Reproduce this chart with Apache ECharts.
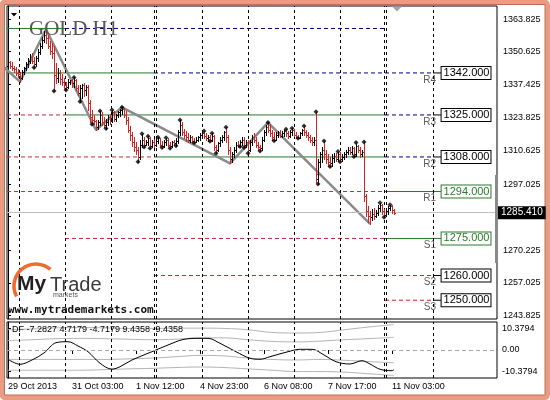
<!DOCTYPE html>
<html>
<head>
<meta charset="utf-8">
<script src="https://cdn.jsdelivr.net/npm/echarts@6/dist/echarts.min.js"></script>
<style>
  html, body { margin: 0; padding: 0; background: #fff; }
  #main { width: 550px; height: 400px; }
</style>
</head>
<body>
<div id="main"></div>
<script>
// GOLD H1 bars, oldest first: [open, close, low, high]
const bars = [
  [1345, 1346.5, 1344, 1347.5], [1346.5, 1345, 1344, 1347], [1345, 1344, 1343, 1346.5], [1344, 1343.5, 1342.5, 1345],
  [1343.5, 1342, 1341, 1344.5], [1342, 1341.5, 1340.5, 1343.5], [1341.5, 1340, 1338.5, 1342.5], [1340, 1342.5, 1339.5, 1343],
  [1342.5, 1344, 1341.5, 1344.5], [1344, 1345.5, 1343, 1346.5], [1345.5, 1347, 1344.5, 1348], [1347, 1348.5, 1346, 1349.5],
  [1348.5, 1347, 1346, 1350], [1347, 1345.5, 1344.2, 1348.5], [1345.5, 1348, 1345, 1349], [1348, 1350.5, 1347, 1351.5],
  [1350.5, 1353, 1349.5, 1354], [1353, 1355.5, 1352, 1356.5], [1355.5, 1357.5, 1354.5, 1359], [1357.5, 1356, 1354, 1359.7],
  [1356, 1353, 1352, 1357.5], [1353, 1351, 1349.5, 1355], [1351, 1350, 1348, 1354], [1350, 1341, 1334.7, 1353],
  [1341, 1340, 1338, 1346], [1340, 1342, 1338.5, 1344], [1342, 1339.5, 1337.5, 1343], [1339.5, 1338.5, 1337, 1341.5],
  [1338.5, 1337, 1336, 1340], [1337, 1336.5, 1335.1, 1338.5], [1336.5, 1338.5, 1336, 1339.5], [1338.5, 1339, 1337.5, 1339.3],
  [1339, 1338, 1336.5, 1339.5], [1338, 1339, 1336.5, 1340.2], [1339, 1336, 1335, 1339.5], [1336, 1334, 1333, 1337],
  [1334, 1336, 1330.4, 1337], [1336, 1337, 1332, 1337.5], [1337, 1335, 1332.5, 1338], [1335, 1336.5, 1333, 1337],
  [1336.5, 1330, 1327, 1337], [1330, 1324, 1322, 1331], [1324, 1323, 1321.2, 1327], [1323, 1322.5, 1321.5, 1325],
  [1322.5, 1320, 1318.9, 1323], [1320, 1322, 1319.5, 1323], [1322, 1325, 1321, 1326.6], [1325, 1322, 1321, 1326],
  [1322, 1321, 1320, 1324], [1321, 1322, 1319.5, 1323.5], [1322, 1324, 1321, 1325], [1324, 1322.5, 1321.5, 1325.5],
  [1322.5, 1326, 1322, 1327], [1326, 1323.5, 1322.5, 1326.5], [1323.5, 1325, 1322.5, 1325.5], [1325, 1326, 1324, 1326.5],
  [1326, 1327, 1324.5, 1327.5], [1327, 1327.5, 1325.5, 1328.1], [1327.5, 1325, 1324, 1328], [1325, 1323, 1321.5, 1326.5],
  [1323, 1319, 1318, 1324], [1319, 1317, 1315, 1320.5], [1317, 1314, 1312.5, 1318], [1314, 1312, 1310.5, 1316],
  [1312, 1311, 1309, 1314], [1311, 1308, 1306.1, 1312], [1308, 1313, 1307, 1315], [1313, 1315, 1312, 1317.4],
  [1315, 1313, 1312, 1316], [1313, 1314, 1312.8, 1315], [1314, 1315.5, 1313, 1316.4], [1315.5, 1312.5, 1311.5, 1316],
  [1312.5, 1314, 1312, 1315], [1314, 1313, 1312.2, 1315.2], [1313, 1314.5, 1312.5, 1315.5], [1314.5, 1315.5, 1313.5, 1316],
  [1315.5, 1313, 1312.5, 1315.8], [1313, 1312.5, 1311.8, 1314.5], [1312.5, 1314, 1312.2, 1314.8], [1314, 1315, 1313, 1315.8],
  [1315, 1313, 1312.5, 1315.5], [1313, 1312.5, 1311.5, 1314], [1312.5, 1314, 1312, 1314.5], [1314, 1313.5, 1312.8, 1315],
  [1313.5, 1314.5, 1312.5, 1315.5], [1314.5, 1318, 1313.5, 1319], [1318, 1321, 1317, 1323], [1321, 1318, 1317, 1322],
  [1318, 1317, 1315.5, 1319.5], [1317, 1316, 1314.5, 1318.5], [1316, 1315, 1314, 1317.5], [1315, 1316, 1314, 1317],
  [1316, 1314.5, 1314, 1316.5], [1314.5, 1314, 1313.7, 1315.5], [1314, 1315, 1314, 1316], [1315, 1316, 1314.5, 1316.5],
  [1316, 1317, 1315, 1317.5], [1317, 1317.5, 1315.5, 1318], [1317.5, 1316.5, 1315.5, 1318.5], [1316.5, 1315.5, 1314.8, 1317.5],
  [1315.5, 1316, 1314.6, 1317], [1316, 1315, 1314.4, 1316.8], [1315, 1316.5, 1314.5, 1317.6], [1316.5, 1312, 1311, 1317],
  [1312, 1311, 1309.5, 1313], [1311, 1313.5, 1310.5, 1314], [1313.5, 1315, 1312.5, 1316], [1315, 1316, 1314, 1317],
  [1316, 1318, 1315, 1318.5], [1318, 1316, 1314, 1320], [1316, 1311, 1309, 1317], [1311, 1307, 1305.4, 1312],
  [1307, 1309, 1306, 1310], [1309, 1311, 1308, 1312], [1311, 1313, 1310, 1314], [1313, 1312.5, 1312.2, 1314.5],
  [1312.5, 1314, 1312.2, 1315], [1314, 1315, 1313, 1316], [1315, 1313, 1311.8, 1316], [1313, 1314, 1312, 1315],
  [1314, 1311, 1309.5, 1315], [1311, 1314, 1310.5, 1315], [1314, 1316, 1313, 1317], [1316, 1315, 1314, 1317.5],
  [1315, 1313, 1312, 1316], [1313, 1312, 1310.8, 1314], [1312, 1311.5, 1310.4, 1313], [1311.5, 1315, 1311, 1316],
  [1315, 1318, 1314.5, 1319], [1318, 1320, 1317, 1321], [1320, 1319, 1318, 1321.9], [1319, 1317.5, 1316.5, 1321.5],
  [1317.5, 1316, 1315, 1319], [1316, 1315, 1314.6, 1318], [1315, 1317, 1315, 1318], [1317, 1318, 1316, 1318.5],
  [1318, 1316.5, 1316, 1318.8], [1316.5, 1317.5, 1316, 1318.5], [1317.5, 1318.5, 1316.5, 1319], [1318.5, 1317.5, 1316.5, 1319.2],
  [1317.5, 1316.5, 1315.8, 1318.5], [1316.5, 1318, 1316, 1318.8], [1318, 1319, 1317, 1319.6], [1319, 1317, 1316.5, 1319.3],
  [1317, 1316, 1315.8, 1318], [1316, 1315.8, 1315.6, 1317], [1315.8, 1317.5, 1315.6, 1318], [1317.5, 1319, 1317, 1319.5],
  [1319, 1318, 1317, 1320.5], [1318, 1317, 1316, 1319], [1317, 1316, 1315, 1318], [1316, 1315, 1314, 1317],
  [1315, 1314, 1313, 1316], [1314, 1315, 1313, 1316], [1315, 1301, 1298, 1326.3], [1299, 1306, 1297, 1307],
  [1306, 1309, 1304, 1310], [1309, 1311, 1306, 1312], [1311, 1309, 1307, 1314.5], [1309, 1307, 1305.5, 1311],
  [1307, 1306, 1304.5, 1309], [1306, 1305.5, 1304.1, 1308], [1305.5, 1307.5, 1304.5, 1309], [1307.5, 1308.5, 1306, 1309.5],
  [1308.5, 1307, 1306.5, 1309.5], [1307, 1309, 1306.5, 1310.2], [1309, 1307, 1306.1, 1310], [1307, 1308, 1306.5, 1309],
  [1308, 1309, 1307, 1310], [1309, 1310, 1308, 1311], [1310, 1311, 1309, 1312], [1311, 1310, 1309, 1312],
  [1310, 1311.5, 1309, 1312.5], [1311.5, 1309, 1308.2, 1312], [1309, 1312.5, 1308.5, 1313.8], [1312.5, 1311, 1310, 1313],
  [1311, 1309, 1308, 1312], [1309, 1310, 1308.5, 1311], [1310, 1292, 1290, 1314], [1292, 1286, 1284, 1293],
  [1286, 1284, 1281.5, 1288], [1284, 1283.5, 1280.9, 1286], [1283.5, 1285, 1282.5, 1287], [1285, 1284, 1283, 1287.5],
  [1284, 1285.5, 1283.5, 1286.5], [1285.5, 1287.5, 1284.5, 1288.5], [1287.5, 1288.5, 1286, 1289.5], [1288.5, 1286, 1285, 1289],
  [1286, 1284.5, 1283.6, 1287], [1284.5, 1286, 1284, 1287], [1286, 1287.5, 1285, 1288], [1287.5, 1288, 1286.5, 1288.6],
  [1288, 1286.5, 1285.5, 1288.4], [1286.5, 1285.41, 1284.9, 1287]
];
const barSlots = 245; // bar slots across the chart, incl. the shifted empty area

// fractals [bar, price]
const fractalsUp = [[33, 1340.2], [46, 1326.6], [52, 1327], [57, 1328.1], [67, 1317.4], [70, 1316.4], [75, 1316],
  [79, 1315.8], [86, 1323], [98, 1318.5], [102, 1317.6], [109, 1320], [130, 1321.9], [139, 1319.2], [142, 1319.6],
  [148, 1320.5], [154, 1326.3], [158, 1314.5], [165, 1310.2], [174, 1313.8], [178, 1314], [186, 1289.5], [191, 1288.6]];
const fractalsDown = [[13, 1344.2], [23, 1334.7], [29, 1335.1], [36, 1330.4], [42, 1321.2], [49, 1319.5], [65, 1306.1],
  [68, 1312], [71, 1311.5], [77, 1311.8], [81, 1311.5], [84, 1312.5], [93, 1313.7], [101, 1314.4], [104, 1309.5],
  [116, 1312.2], [118, 1311.8], [120, 1309.5], [126, 1310.4], [133, 1314.6], [145, 1315.6], [155, 1297], [161, 1304.1],
  [166, 1306.1], [173, 1308.2], [188, 1283.6]];

// zigzag vertices [bar, price]
const zigzag = [[-3, 1345], [6, 1338.5], [19, 1359.7], [44, 1318.9], [57, 1328.1], [111, 1305.4], [130, 1321.9], [181, 1280.9]];

const lastPrice = 1285.41;
const pivots = [['R4', 1342], ['R3', 1325], ['R2', 1308], ['R1', 1294], ['S1', 1275], ['S2', 1260], ['S3', 1250]];
// level segments [price, fromBar, toBar, kind]
const levelSegments = [
  [1360, -0.5, 28.5, 'mid'], [1360, 28.5, 188.5, 'res'],
  [1342, -0.5, 73, 'mid'], [1342, 73, 212.5, 'res'],
  [1325, -0.5, 28.5, 'sup'], [1325, 28.5, 188.5, 'mid'], [1325, 188.5, 212.5, 'res'],
  [1308, -0.5, 73, 'sup'], [1308, 73, 188.5, 'mid'], [1308, 188.5, 212.5, 'res'],
  [1294, -0.5, 188.5, 'sup'], [1294, 188.5, 212.5, 'mid'],
  [1275, 28.5, 188.5, 'sup'], [1275, 188.5, 212.5, 'mid'],
  [1260, 73, 212.5, 'sup'],
  [1250, 188.5, 212.5, 'sup']
];
const pivotEnd = 212.5;
const pivotBoxAt = 216.8;

const daySeparators = [5.5, 28.5, 51.5, 73, 74, 97, 120, 143, 166, 188, 189, 212.5];
const timeLabelBars = [0, 32, 64, 96, 128, 160, 192];
const timeLabels = ['29 Oct 2013', '31 Oct 03:00', '1 Nov 12:00', '4 Nov 23:00', '6 Nov 08:00', '7 Nov 17:00', '11 Nov 03:00'];
const priceTicks = [1363.825, 1350.625, 1337.425, 1323.825, 1310.625, 1297.025, 1283.825, 1270.225, 1257.025, 1243.825];
const priceMin = 1242.4, priceMax = 1369.1;

// DF indicator
const dfMax = 10.3794;
const dfBars = [0, 6, 12, 18, 24, 30, 35, 40, 46, 52, 56, 62, 72, 80, 88, 96, 100, 106, 114, 121, 126, 131, 140, 146, 152, 158, 164, 171, 177, 181, 186, 192, 193];
const dfValues = [-3.44, -5.3, -3.7, -1.1, 2.7, 3.07, 1.48, -0.63, -4.9, -7.1, -6.2, -3.7, -0.63, 1.85, 3.96, 4.33, 4.33, 2.48, -0.63, -3.07, -3.44, -2.48, -0.63, 0.26, 0.26, -1.85, -4.33, -5.19, -3.96, -5.2, -7.15, -7.67, -7.2827];
const bandBars = [0, 12, 24, 36, 48, 60, 72, 84, 96, 108, 120, 132, 144, 156, 168, 180, 193];
const bandUpper2 = [7.5, 7.8, 8.2, 8.3, 8.2, 8.0, 8.0, 8.1, 8.1, 8.0, 7.5, 6.5, 6.3, 6.5, 7.5, 8.5, 9.4358];
const bandUpper1 = [3.5, 3.8, 4.2, 4.3, 4.2, 4.0, 3.8, 4.0, 4.5, 4.5, 3.8, 3.2, 3.0, 3.3, 3.8, 4.2, 4.7179];
const bandLower1 = [-3.5, -3.5, -3.5, -3.5, -3.5, -3.3, -3.0, -2.5, -2.0, -2.2, -3.0, -3.5, -3.7, -3.5, -3.8, -4.3, -4.7179];
const bandLower2 = [-7.5, -7.5, -7.5, -7.5, -7.3, -7.0, -6.8, -6.5, -6.3, -6.5, -7.0, -7.5, -8.0, -8.0, -8.2, -8.8, -9.4358];

const FONT = 'Liberation Sans';
const UP = '#000', DOWN = '#d22626';
const kindStyle = {
  res: { color: '#000080', type: [4, 3] },
  mid: { color: '#2a7a2a', type: 'solid' },
  sup: { color: '#c42b2b', type: [4, 3] }
};

const chart = echarts.init(document.getElementById('main'));

const sepData = daySeparators.map(v => ({ xAxis: v }));

const series = [];
// OHLC bars: high-low stem, open tick left, close tick right
series.push({
  type: 'custom', xAxisIndex: 0, yAxisIndex: 0, z: 5, clip: true, silent: true,
  data: bars.map((b, i) => [i, b[0], b[1], b[2], b[3]]),
  encode: { x: 0, y: [1, 2, 3, 4] },
  renderItem: (params, api) => {
    const i = api.value(0);
    const hi = api.coord([i, api.value(4)]);
    const lo = api.coord([i, api.value(3)]);
    const op = api.coord([i, api.value(1)]);
    const cl = api.coord([i, api.value(2)]);
    const c = Math.round(hi[0]);
    const col = api.value(2) >= api.value(1) ? UP : DOWN;
    const st = { stroke: col, lineWidth: 1 };
    return {
      type: 'group',
      children: [
        { type: 'line', shape: { x1: c + 0.5, y1: Math.round(hi[1]), x2: c + 0.5, y2: Math.round(lo[1]) + 1 }, style: st },
        { type: 'line', shape: { x1: c - 1, y1: Math.round(op[1]) + 0.5, x2: c, y2: Math.round(op[1]) + 0.5 }, style: st },
        { type: 'line', shape: { x1: c + 1, y1: Math.round(cl[1]) + 0.5, x2: c + 2, y2: Math.round(cl[1]) + 0.5 }, style: st }
      ]
    };
  },
  markLine: {
    silent: true, symbol: ['none', 'none'], label: { show: false },
    lineStyle: { color: '#000', type: [3, 3], width: 1 },
    data: [{
      yAxis: lastPrice,
      lineStyle: { color: '#c0c0c0', type: 'solid', width: 1 },
      label: {
        show: true, position: 'end', distance: 1, formatter: lastPrice.toFixed(3),
        backgroundColor: '#000', color: '#fff', padding: [2, 3, 1, 3], fontSize: 10, fontFamily: FONT
      }
    }].concat(sepData)
  }
});

levelSegments.forEach(s => {
  const st = kindStyle[s[3]];
  series.push({
    type: 'line', xAxisIndex: 0, yAxisIndex: 0, z: 2, silent: true, symbol: 'none',
    data: [[s[1], s[0]], [s[2], s[0]]],
    lineStyle: { color: st.color, type: st.type, width: 1 }
  });
});

pivots.forEach(p => {
  const last = levelSegments.find(s => s[0] === p[1] && s[2] === pivotEnd);
  const col = last && last[3] === 'mid' ? '#2a7a2a' : '#000';
  series.push({
    type: 'line', xAxisIndex: 0, yAxisIndex: 0, z: 3, silent: true, symbol: 'none',
    data: [[pivotEnd, p[1]], [pivotBoxAt, p[1]]],
    lineStyle: { color: col, width: 1 },
    endLabel: {
      show: true, distance: 0, formatter: p[1].toFixed(3),
      color: col, borderColor: col, borderWidth: 1, backgroundColor: '#fff',
      padding: [1, 1, 0, 2], fontSize: 11, fontFamily: FONT, lineHeight: 11
    }
  });
});

series.push({
  type: 'scatter', xAxisIndex: 0, yAxisIndex: 0, symbolSize: 0, silent: true, z: 3,
  data: pivots.map(p => [pivotEnd, p[1], p[0]]),
  label: {
    show: true, position: 'bottom', distance: 2, align: 'right', offset: [3, 0],
    formatter: q => q.data[2], color: '#333', fontSize: 10, fontFamily: FONT
  }
});

series.push({
  type: 'line', xAxisIndex: 0, yAxisIndex: 0, z: 4, silent: true, symbol: 'none',
  data: zigzag, lineStyle: { color: '#8a8a8a', width: 2.5 }
});

series.push({
  type: 'scatter', xAxisIndex: 0, yAxisIndex: 0, z: 6, silent: true,
  symbol: 'diamond', symbolSize: 5, itemStyle: { color: '#000' },
  data: fractalsUp.concat(fractalsDown)
});

// indicator panel
const bandStyle = { color: '#b4b4b4', width: 1 };
[bandUpper2, bandUpper1, bandLower1, bandLower2].forEach(band => {
  series.push({
    type: 'line', xAxisIndex: 1, yAxisIndex: 1, z: 2, silent: true, symbol: 'none', smooth: 0.4,
    data: bandBars.map((b, i) => [b, band[i]]), lineStyle: bandStyle
  });
});
series.push({
  type: 'line', xAxisIndex: 1, yAxisIndex: 1, z: 3, silent: true, symbol: 'none', smooth: 0.35,
  data: dfBars.map((b, i) => [b, dfValues[i]]),
  lineStyle: { color: '#000', width: 1 },
  markLine: {
    silent: true, symbol: ['none', 'none'], label: { show: false },
    lineStyle: { color: '#000', type: [3, 3], width: 1 },
    data: [{ yAxis: 0, lineStyle: { color: '#a8a8a8', type: [4, 3] } }].concat(sepData)
  }
});

const dfTickValues = [dfMax * 0.77, 0, -dfMax * 0.77];
const axisText = { color: '#000', fontSize: 9, fontFamily: FONT };
const dfLegend = ['DF', dfValues[dfValues.length - 1], bandUpper1[bandUpper1.length - 1], bandLower1[bandLower1.length - 1],
  bandUpper2[bandUpper2.length - 1], bandLower2[bandLower2.length - 1]].map(v => typeof v === 'number' ? v.toFixed(4) : v).join(' ');

const option = {
  animation: false,
  backgroundColor: '#fff',
  title: {
    text: 'GOLD H1', left: 24, top: 14,
    textStyle: { fontFamily: 'Liberation Serif', fontSize: 21, fontWeight: 'normal', color: '#555' }
  },
  grid: [
    { left: 7, right: 53, top: 6, height: 313, show: true, borderColor: '#000', borderWidth: 1, outerBoundsMode: 'none' },
    { left: 7, right: 53, top: 322, height: 56, show: true, borderColor: '#000', borderWidth: 1, outerBoundsMode: 'none' }
  ],
  xAxis: [
    { type: 'value', gridIndex: 0, min: -0.5, max: barSlots - 0.5, show: false },
    {
      type: 'value', gridIndex: 1, min: -0.5, max: barSlots - 0.5,
      axisLine: { show: false }, splitLine: { show: false },
      axisTick: { show: true, customValues: timeLabelBars, length: 4, lineStyle: { color: '#000' } },
      axisLabel: Object.assign({
        customValues: timeLabelBars, align: 'left', margin: 4,
        formatter: v => timeLabels[timeLabelBars.indexOf(v)] || ''
      }, axisText)
    }
  ],
  yAxis: [
    {
      type: 'value', gridIndex: 0, position: 'right', min: priceMin, max: priceMax, scale: true,
      axisLine: { show: true, lineStyle: { color: '#000' } }, splitLine: { show: false },
      axisTick: { show: true, customValues: priceTicks, length: 3, lineStyle: { color: '#000' } },
      axisLabel: Object.assign({ customValues: priceTicks, margin: 6, formatter: v => v.toFixed(3) }, axisText)
    },
    {
      type: 'value', gridIndex: 1, position: 'right', min: -dfMax, max: dfMax,
      axisLine: { show: true, lineStyle: { color: '#000' } }, splitLine: { show: false },
      axisTick: { show: true, customValues: dfTickValues, length: 3, lineStyle: { color: '#000' } },
      axisLabel: Object.assign({
        customValues: dfTickValues, margin: 5,
        formatter: v => v === 0 ? '0.00' : (v > 0 ? dfMax : -dfMax).toFixed(4)
      }, axisText)
    }
  ],
  graphic: [
    { type: 'rect', z: 0, shape: { x: 2, y: 2, width: 545.5, height: 395.5, r: 3 }, style: { fill: null, stroke: '#e99c82', lineWidth: 5 } },
    { type: 'rect', z: 0, shape: { x: 4.5, y: 4.5, width: 540.5, height: 390.5 }, style: { fill: null, stroke: '#b8705c', lineWidth: 1 } },
    { type: 'polygon', z: 10, shape: { points: [[11, 13], [17, 13], [14, 16.5]] }, style: { fill: '#000' } },
    { type: 'polygon', z: 10, shape: { points: [[392, 6.5], [402, 6.5], [397, 11.5]] }, style: { fill: '#a6a6a6' } },
    { type: 'rect', z: 10, shape: { x: 495, y: 175, width: 3, height: 88 }, style: { fill: '#8a8a8a' } },
    {
      type: 'arc', z: 10,
      shape: { cx: 36, cy: 286, r: 22, startAngle: 152 * Math.PI / 180, endAngle: 311 * Math.PI / 180, clockwise: true },
      style: { fill: null, stroke: '#f26a2e', lineWidth: 3.5 }
    },
    { type: 'text', z: 11, x: 17, y: 274, style: { text: 'My', fill: '#231f20', font: 'bold 21px "Liberation Sans"' } },
    { type: 'text', z: 11, x: 50, y: 275, style: { text: 'Trade', fill: '#3a3a3a', font: '20px "Liberation Sans"' } },
    { type: 'text', z: 11, x: 53, y: 292, style: { text: 'markets', fill: '#555', font: '7px "Liberation Sans"' } },
    { type: 'text', z: 11, x: 8, y: 305, style: { text: 'www.mytrademarkets.com', fill: '#111', font: 'bold 11px "DejaVu Sans Mono"' } },
    { type: 'text', z: 11, x: 12, y: 325, style: { text: dfLegend, fill: '#000', font: '9px "Liberation Sans"' } }
  ],
  series: series
};

chart.setOption(option);
</script>
</body>
</html>
